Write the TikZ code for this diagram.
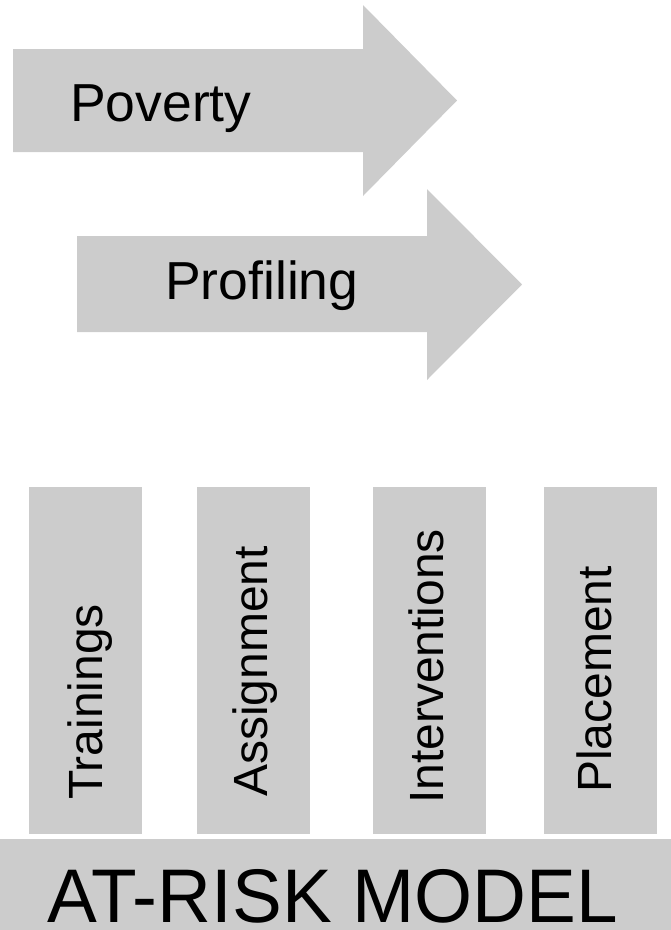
\documentclass[tikz,border=0pt]{standalone}
\usepackage{fontspec}
\setmainfont{Liberation Sans}
\definecolor{boxgray}{HTML}{CCCCCC}
\begin{document}
\begin{tikzpicture}[x=1pt,y=-1pt,
  shapefill/.style={fill=boxgray,draw=none},
  arrowtext/.style={anchor=base west,inner sep=0pt,font=\fontsize{53.5}{60}\selectfont},
  bartext/.style={anchor=base west,inner sep=0pt,rotate=90,font=\fontsize{48}{54}\selectfont},
  basetext/.style={anchor=base west,inner sep=0pt,font=\fontsize{76}{84}\selectfont,xscale=0.982}]
\useasboundingbox (0,0) rectangle (671,930);
% arrows
\fill[shapefill] (13,49) -- (363,49) -- (363,5) -- (457,100.5) -- (363,196) -- (363,152) -- (13,152) -- cycle;
\fill[shapefill] (77,236) -- (427,236) -- (427,189) -- (522,284.5) -- (427,380) -- (427,332) -- (77,332) -- cycle;
\node[arrowtext] (poverty) at (70,121) {Poverty};
\node[arrowtext] (profiling) at (165,299) {Profiling};
% bars
\fill[shapefill] (29,487) rectangle (142,834);
\fill[shapefill] (197,487) rectangle (310,834);
\fill[shapefill] (373,487) rectangle (486,834);
\fill[shapefill] (544,487) rectangle (657,834);
\node[bartext] (trainings) at (102,800) {Trainings};
\node[bartext] (assignment) at (267,797) {Assignment};
\node[bartext] (interventions) at (443,804) {Interventions};
\node[bartext] (placement) at (611,793) {Placement};
% base
\fill[shapefill] (0,839) rectangle (671,930);
\node[basetext] (model) at (47,922) {AT-RISK MODEL};
\end{tikzpicture}
\end{document}
